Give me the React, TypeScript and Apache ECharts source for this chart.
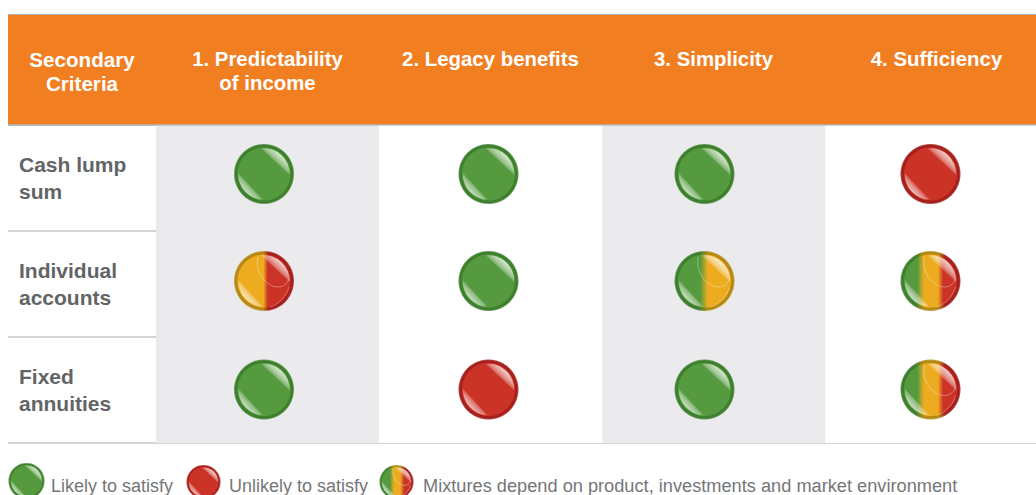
import React, { useEffect, useRef } from "react";
import * as echarts from "echarts";

const criteria = ["1. Predictability\nof income", "2. Legacy benefits", "3. Simplicity", "4. Sufficiency"];
const products = ["Cash lump\nsum", "Individual\naccounts", "Fixed\nannuities"];
const cornerTitle = "Secondary\nCriteria";
const cashLumpSum = ["likely", "likely", "likely", "unlikely"];
const individualAccounts = ["amberRed", "likely", "greenAmber", "mixed"];
const fixedAnnuities = ["likely", "unlikely", "likely", "mixed"];
const legendStatuses = ["likely", "unlikely", "legendMixed"];
const legendLabels = ["Likely to satisfy", "Unlikely to satisfy", "Mixtures depend on product, investments and market environment"];

const statusKeys = ["likely", "unlikely", "amberRed", "greenAmber", "mixed", "legendMixed"];
const GREEN = ["#559A3F", "#3E7F2E"];
const RED = ["#CC3327", "#A5201C"];
const AMBER = ["#EDAC20", "#B58A14"];

function bands(stops: [number, string[]][], k: number) {
  const out: { offset: number; color: string }[] = [];
  stops.forEach(([o, c]) => out.push({ offset: o, color: c[k] }));
  return { type: "linear", x: 0, y: 0, x2: 1, y2: 0, colorStops: out };
}

const paints: Record<string, [number, string[]][] | string[]> = {
  likely: GREEN,
  unlikely: RED,
  amberRed: [[0, AMBER], [0.49, AMBER], [0.57, RED], [1, RED]],
  greenAmber: [[0, GREEN], [0.42, GREEN], [0.56, AMBER], [1, AMBER]],
  mixed: [[0, GREEN], [0.25, GREEN], [0.38, AMBER], [0.64, AMBER], [0.74, RED], [1, RED]],
  legendMixed: [[0, GREEN], [0.28, GREEN], [0.42, AMBER], [0.62, AMBER], [0.76, RED], [1, RED]],
};

function paintOf(status: string, k: number) {
  const p = paints[status];
  if (typeof p[0] === "string") return (p as string[])[k];
  return bands(p as [number, string[]][], k);
}

function segment(r: number, a: number, b: number) {
  const rad = Math.PI / 180;
  const f = (v: number) => v.toFixed(2);
  const x1 = r * Math.cos(a * rad), y1 = r * Math.sin(a * rad);
  const x2 = r * Math.cos(b * rad), y2 = r * Math.sin(b * rad);
  return `M${f(x1)} ${f(y1)}A${f(r)} ${f(r)} 0 0 1 ${f(x2)} ${f(y2)}Z`;
}

function gloss(x: number, y: number, x2: number, y2: number, peak: number) {
  return {
    type: "linear", x, y, x2, y2,
    colorStops: [
      { offset: 0.47, color: "rgba(255,255,255,0.1)" },
      { offset: 0.58, color: `rgba(255,255,255,${peak * 0.62})` },
      { offset: 0.72, color: `rgba(255,255,255,${peak})` },
      { offset: 1, color: `rgba(255,255,255,${peak})` },
    ],
  };
}

function badge(cx: number, cy: number, R: number, status: string) {
  const inner = R * 0.885;
  const isMix = status !== "likely" && status !== "unlikely";
  const children: any[] = [
    { type: "circle", shape: { cx: 0, cy: 0, r: R }, style: { fill: paintOf(status, 1) } },
    { type: "circle", shape: { cx: 0, cy: 0, r: R - 0.3 }, style: { fill: "none", stroke: "rgba(255,255,255,0.28)", lineWidth: 0.8 } },
    { type: "circle", shape: { cx: 0, cy: 0, r: inner }, style: { fill: paintOf(status, 0) } },
    { type: "path", shape: { pathData: segment(inner * 0.97, -96, 2) }, style: { fill: gloss(0, 1, 1, 0, 0.76) } },
    { type: "path", shape: { pathData: segment(inner * 0.97, 92, 182) }, style: { fill: gloss(1, 0, 0, 1, 0.7) } },
  ];
  if (isMix) {
    const k = R / 30;
    children.push(
      { type: "path", shape: { pathData: `M${-6 * k} ${-24 * k}C${-10 * k} ${-10 * k} ${2 * k} ${6 * k} ${14 * k} ${6 * k}C${20 * k} ${6 * k} ${24 * k} ${2 * k} ${25 * k} ${-3 * k}` }, style: { fill: "none", stroke: "rgba(255,255,255,0.42)", lineWidth: 0.8 } },
      { type: "path", shape: { pathData: `M${25 * k} ${6 * k}C${22 * k} ${16 * k} ${14 * k} ${24 * k} ${6 * k} ${26 * k}` }, style: { fill: "none", stroke: "rgba(255,255,255,0.35)", lineWidth: 0.8 } }
    );
  }
  return { type: "group", x: cx, y: cy, children };
}

const cellData: number[][] = [];
[cashLumpSum, individualAccounts, fixedAnnuities].forEach((row, r) =>
  row.forEach((s, c) => cellData.push([c, r, statusKeys.indexOf(s)]))
);
const legendData = legendStatuses.map((s, i) => [i, statusKeys.indexOf(s)]);

const columnNudge = [-3.5, -2, -9, -6];
const rowNudge = [-4, -3, -0.5];
const legendMarks = [
  { x: 26.5, y: 481, r: 18 },
  { x: 203.5, y: 482, r: 17 },
  { x: 396.5, y: 482, r: 17 },
];
const legendTextX = [51, 229, 423];
const legendFontSizes = [18, 18, 18.22];
const RULE = "#C5C5C7";
const FAMILY = "'Liberation Sans', Arial, sans-serif";

export default function App() {
  const ref = useRef<HTMLDivElement>(null);
  useEffect(() => {
    const chart = echarts.init(ref.current!, null, { renderer: "svg" });
    chart.setOption({
      animation: false,
      backgroundColor: "#fff",
      textStyle: { fontFamily: FAMILY },
      grid: { left: 156, top: 125, width: 892, height: 318, containLabel: false, outerBoundsMode: "none" },
      xAxis: {
        type: "category",
        position: "top",
        data: criteria,
        axisLine: { show: false },
        axisTick: { show: false },
        splitArea: { show: true, areaStyle: { color: ["#EBEBED", "#FFFFFF"] } },
        axisLabel: {
          interval: 0,
          margin: 78,
          verticalAlign: "top",
          align: "center",
          color: "#FFFFFF",
          fontWeight: "bold",
          fontSize: 20.4,
          lineHeight: 24,
          fontFamily: FAMILY,
        },
      },
      yAxis: {
        type: "category",
        inverse: true,
        data: products,
        axisLine: { show: false },
        axisTick: { show: true, length: 148, lineStyle: { color: RULE, width: 1.5 } },
        splitLine: { show: true, lineStyle: { color: RULE, width: 1.5 } },
        axisLabel: {
          interval: 0,
          margin: 137,
          align: "left",
          color: "#636466",
          fontWeight: "bold",
          fontSize: 21,
          lineHeight: 27,
          padding: [3, 0, 0, 0],
          fontFamily: FAMILY,
        },
      },
      graphic: [
        { type: "rect", z: -10, shape: { x: 8, y: 15, width: 1028, height: 110 }, style: { fill: "#F27E22" } },
        { type: "line", z: -9, shape: { x1: 8, y1: 14.5, x2: 1036, y2: 14.5 }, style: { stroke: "#A9AFB3", lineWidth: 1 } },
        { type: "line", z: 4, shape: { x1: 8, y1: 125, x2: 1036, y2: 125 }, style: { stroke: "#A8A6A2", lineWidth: 1.2 } },
        {
          type: "text", x: 82, y: 47, z: 5,
          style: { text: cornerTitle, fill: "#fff", align: "center", verticalAlign: "top", font: `bold 20.6px ${FAMILY}`, lineHeight: 24 },
        },
        ...legendLabels.map((t, i) => ({
          type: "text", x: legendTextX[i], y: 486, z: 5,
          style: { text: t, fill: "#75767A", align: "left", verticalAlign: "middle", font: `${legendFontSizes[i]}px ${FAMILY}` },
        })),
      ],
      series: [
        {
          type: "custom",
          coordinateSystem: "cartesian2d",
          clip: false,
          data: cellData,
          encode: { x: 0, y: 1 },
          renderItem: (_p: any, api: any) => {
            const c = api.value(0), r = api.value(1);
            const pt = api.coord([c, r]);
            return badge(pt[0] + columnNudge[c], pt[1] + rowNudge[r], 30, statusKeys[api.value(2)]);
          },
        },
        {
          type: "custom",
          coordinateSystem: "none",
          data: legendData,
          renderItem: (_p: any, api: any) => {
            const m = legendMarks[api.value(0)];
            return badge(m.x, m.y, m.r, statusKeys[api.value(1)]);
          },
        },
      ],
    });
    return () => chart.dispose();
  }, []);
  return <div ref={ref} style={{ position: "fixed", left: 0, top: 0, width: 1036, height: 495 }} />;
}
